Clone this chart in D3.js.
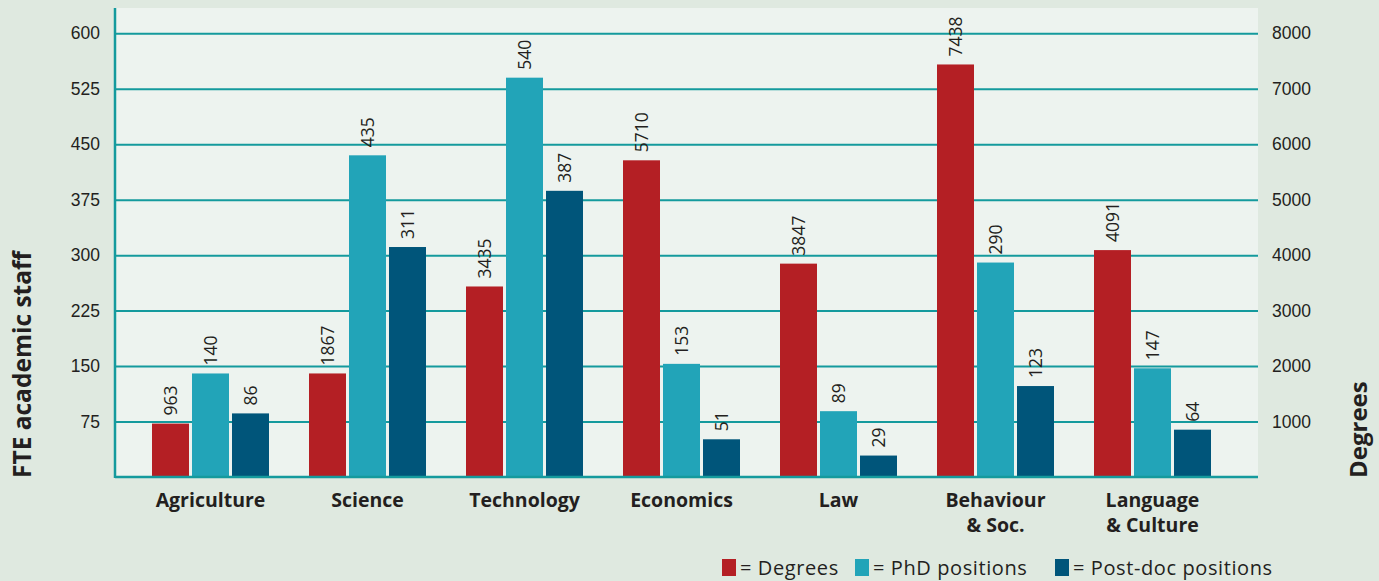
<!DOCTYPE html>
<html>
<head>
<meta charset="utf-8">
<script src="https://cdn.jsdelivr.net/npm/d3@7"></script>
<style>
  html, body { margin: 0; padding: 0; background: #dfe9e0; }
  svg { display: block; font-family: "Open Sans", sans-serif; }
</style>
</head>
<body>
<svg id="chart" width="1379" height="581"></svg>
<script>
const categories = ["Agriculture", "Science", "Technology", "Economics", "Law", "Behaviour|& Soc.", "Language|& Culture"];
const degrees = [963, 1867, 3435, 5710, 3847, 7438, 4091];
const phdPositions = [140, 435, 540, 153, 89, 290, 147];
const postdocPositions = [86, 311, 387, 51, 29, 123, 64];
const seriesNames = ["Degrees", "PhD positions", "Post-doc positions"];
const leftTicks = [75, 150, 225, 300, 375, 450, 525, 600];
const rightTicks = [1000, 2000, 3000, 4000, 5000, 6000, 7000, 8000];

const colors = ["#b41f24", "#22a4b8", "#00557a"];
const gridColor = "#149a9d";
const textColor = "#231f20";

const svg = d3.select("#chart");
const plotLeft = 115, plotRight = 1258, plotTop = 8, plotBottom = 477;

// plot background
svg.append("rect")
  .attr("x", plotLeft).attr("y", plotTop)
  .attr("width", plotRight - plotLeft).attr("height", plotBottom - plotTop)
  .attr("fill", "#edf3ef");

const x = d3.scaleBand()
  .domain(categories)
  .range([112, 1251])
  .paddingInner(40 / 157)
  .paddingOuter(40 / 157);

const xSeries = d3.scaleBand()
  .domain(seriesNames)
  .range([0, x.bandwidth()])
  .paddingInner(3 / 40);

const yLeft = d3.scaleLinear().domain([0, 600]).range([plotBottom, 33.3]);
const yRight = d3.scaleLinear().domain([0, 8000]).range([plotBottom, 33.3]);

// grid + left axis labels
const leftAxis = svg.append("g")
  .attr("transform", `translate(${plotLeft},0)`)
  .call(d3.axisLeft(yLeft).tickValues(leftTicks).tickSizeInner(-(plotRight - plotLeft)).tickSizeOuter(0).tickPadding(15));
leftAxis.select(".domain").remove();
leftAxis.selectAll(".tick line").attr("stroke", gridColor).attr("stroke-width", 2);
leftAxis.selectAll(".tick text")
  .attr("fill", textColor).style("font-size", "17.5px");

const rightAxis = svg.append("g")
  .attr("transform", `translate(${plotRight},0)`)
  .call(d3.axisRight(yRight).tickValues(rightTicks).tickFormat(d3.format("d")).tickSize(0).tickPadding(14));
rightAxis.select(".domain").remove();
rightAxis.selectAll(".tick text")
  .attr("fill", textColor).style("font-size", "17.5px");

// data rows
const rows = categories.map((c, i) => ({
  category: c,
  values: [
    { series: seriesNames[0], value: degrees[i], scale: yRight },
    { series: seriesNames[1], value: phdPositions[i], scale: yLeft },
    { series: seriesNames[2], value: postdocPositions[i], scale: yLeft }
  ]
}));

const groups = svg.append("g").selectAll("g")
  .data(rows)
  .join("g")
  .attr("transform", d => `translate(${x(d.category)},0)`);

groups.selectAll("rect")
  .data(d => d.values)
  .join("rect")
  .attr("x", d => xSeries(d.series))
  .attr("width", xSeries.bandwidth())
  .attr("y", d => d.scale(d.value))
  .attr("height", d => plotBottom - d.scale(d.value))
  .attr("fill", (d, i) => colors[i]);

groups.selectAll("text.val")
  .data(d => d.values)
  .join("text")
  .attr("class", "val")
  .attr("transform", d => `translate(${xSeries(d.series) + xSeries.bandwidth() / 2},${d.scale(d.value) - 8}) rotate(-90)`)
  .attr("dy", "0.36em")
  .attr("fill", textColor)
  .style("font-size", "17.5px")
  .text(d => d.value);

// axis lines
svg.append("line")
  .attr("x1", plotLeft).attr("x2", plotLeft)
  .attr("y1", plotTop).attr("y2", plotBottom + 1)
  .attr("stroke", gridColor).attr("stroke-width", 2.5);
svg.append("line")
  .attr("x1", plotLeft).attr("x2", plotRight)
  .attr("y1", plotBottom).attr("y2", plotBottom)
  .attr("stroke", gridColor).attr("stroke-width", 2.5);

// category labels
const catLabels = svg.append("g").selectAll("text")
  .data(categories)
  .join("text")
  .attr("x", d => x(d) + x.bandwidth() / 2)
  .attr("y", 507)
  .attr("text-anchor", "middle")
  .attr("fill", textColor)
  .style("font-size", "19.5px")
  .style("font-weight", "700");
catLabels.selectAll("tspan")
  .data(d => d.split("|"))
  .join("tspan")
  .attr("x", function () { return d3.select(this.parentNode).attr("x"); })
  .attr("dy", (d, i) => i === 0 ? 0 : 25)
  .text(d => d);

// axis titles
svg.append("text")
  .attr("transform", "translate(31,478) rotate(-90)")
  .attr("fill", textColor)
  .style("font-size", "24.5px")
  .style("font-weight", "700")
  .text("FTE academic staff");

svg.append("text")
  .attr("transform", "translate(1367,478) rotate(-90)")
  .attr("fill", textColor)
  .style("font-size", "24px")
  .style("font-weight", "700")
  .text("Degrees");

// legend
const legendX = [722, 855, 1055];
const legend = svg.append("g").selectAll("g")
  .data(seriesNames)
  .join("g")
  .attr("transform", (d, i) => `translate(${legendX[i]},0)`);
legend.append("rect")
  .attr("x", 0).attr("y", 559)
  .attr("width", 14).attr("height", 17)
  .attr("fill", (d, i) => colors[i]);
legend.append("text")
  .attr("x", 18).attr("y", 575)
  .attr("fill", textColor)
  .style("font-size", "20px")
  .style("letter-spacing", "0.6px")
  .text(d => "= " + d);
</script>
</body>
</html>
